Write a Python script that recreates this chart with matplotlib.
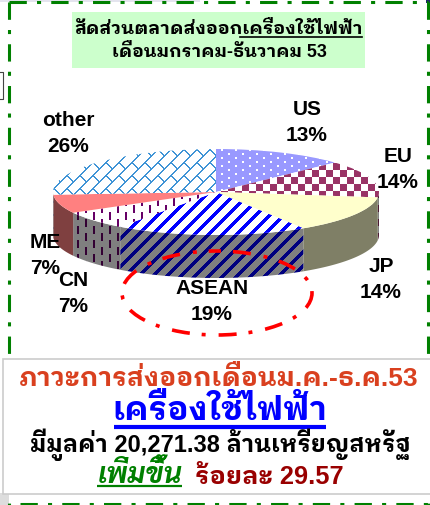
import numpy as np
import matplotlib
matplotlib.use("Agg")
from matplotlib import pyplot as plt
from matplotlib.patches import Ellipse, Polygon, Rectangle

labels = ["US", "EU", "JP", "ASEAN", "CN", "ME", "other"]
shares = [13, 14, 14, 19, 7, 7, 26]
percent_text = ["13%", "14%", "14%", "19%", "7%", "7%", "26%"]
label_x = [307, 398, 381, 212, 73, 45, 68]
label_y = [109, 156, 267, 288, 281, 243, 120]

title_lines = ["สัดส่วนตลาดส่งออกเครื่องใช้ไฟฟ้า", "เดือนมกราคม-ธันวาคม 53"]
bottom_head = "ภาวะการส่งออกเดือนม.ค.-ธ.ค.53"
bottom_product = "เครื่องใช้ไฟฟ้า"
bottom_value = "มีมูลค่า 20,271.38 ล้านเหรียญสหรัฐ"
bottom_up = "เพิ่มขึ้น"
bottom_pct = "ร้อยละ 29.57"

THAI = ["Liberation Sans", "IBM Plex Sans Thai Looped", "DejaVu Sans"]
plt.rcParams["font.family"] = THAI

GREEN = "#008000"


def hexrgb(c):
    return np.array(matplotlib.colors.to_rgb(c))


# fill patterns, one pixel of image = one pixel of picture
def texture(name, w, h):
    yy, xx = np.mgrid[0:h, 0:w]
    img = np.ones((h, w, 3))
    if name == "US":
        img[:] = hexrgb("#9999ff")
        col = (xx // 7) % 2
        dots = (xx % 7 < 2) & ((yy + col * 4) % 8 < 2)
        img[dots] = 1
    elif name == "EU":
        check = ((xx // 7) + (yy // 7)) % 2 == 0
        img[check] = hexrgb("#993366")
    elif name == "JP":
        img[:] = hexrgb("#ffffcc")
    elif name == "ASEAN":
        img[(xx + yy) % 14 < 5] = hexrgb("#0000ff")
    elif name == "CN":
        col = (xx // 8) % 2
        dash = (xx % 8 < 2) & ((yy + col * 7) % 14 < 8)
        img[dash] = hexrgb("#660066")
    elif name == "ME":
        img[:] = hexrgb("#ff8080")
    else:
        # diagonal brick
        row = ((xx + yy) // 13) % 2
        lines = (xx + yy) % 13 < 2
        cross = (xx - yy + row * 13) % 26 < 2
        img[lines | cross] = hexrgb("#3f94d6")
    return img


fig = plt.figure(figsize=(4.3, 5.06), dpi=100)
ax = fig.add_axes([0, 0, 1, 1])
ax.set_xlim(0, 430)
ax.set_ylim(506, 0)
ax.axis("off")

# page bits around the slide
ax.add_patch(Rectangle((0, 0), 200, 3, fc="#e4e4ee", ec="none"))
ax.add_patch(Rectangle((426, 0), 4, 4, fc="#1f2a66", ec="none"))
ax.add_patch(Rectangle((0, 494), 9, 12, fc="#dddddd", ec="none"))
ax.plot([0, 3, 3, 0], [73, 73, 100, 100], color="#444444", lw=0.8)

# green dash-dot frame
dash = (0, (17 / 3, 10 / 3, 4 / 3, 10 / 3))
for xs, ys in [([9, 428], [3, 3]), ([9, 9], [3, 506]), ([428, 428], [3, 506]), ([20, 430], [505, 505])]:
    ax.plot(xs, ys, color=GREEN, lw=2.2, linestyle=dash, dash_capstyle="butt")

# title
ax.add_patch(Rectangle((72, 13), 293, 56, fc="#ccffcc", ec="none"))
ax.text(219, 29, title_lines[0], ha="center", va="center", fontsize=13.2, fontweight="bold")
ax.text(219, 52, title_lines[1], ha="center", va="center", fontsize=13, fontweight="bold")
ax.plot([240, 362], [38, 38], color="black", lw=1.2)

# pie, drawn in its own axes so the circle can be squashed
px_left, px_right, px_top, px_mid_bottom, px_bottom = 53, 379, 150, 236, 279
ax_pie = fig.add_axes([px_left / 430, 1 - px_bottom / 506, (px_right - px_left) / 430, (px_bottom - px_top) / 506])
wedges, _ = ax_pie.pie(shares, startangle=90, counterclock=False, radius=1, wedgeprops={"fc": "none", "ec": "none"})
ax_pie.set_aspect("auto")
ax_pie.axis("off")
y_scale = (px_mid_bottom - px_top) / 2
depth = (px_bottom - px_mid_bottom) / y_scale
ymin = -1 - depth
w_px, h_px = px_right - px_left, px_bottom - px_top
extent = (-1, 1, ymin, 1)

cum = 0
for name, share, wedge in zip(labels, shares, wedges):
    a0 = 90 - cum * 3.6
    a1 = 90 - (cum + share) * 3.6
    cum += share
    tex = texture(name, w_px, h_px)
    # side wall, only the part of the rim facing us
    t = np.radians(np.linspace(a0, a1, 120))
    t = t[np.sin(t) <= 0]
    if len(t) > 1:
        xs, ys = np.cos(t), np.sin(t)
        pts = np.r_[np.c_[xs, ys], np.c_[xs[::-1], ys[::-1] - depth]]
        wall = Polygon(pts, closed=True, fc="none", ec="none", transform=ax_pie.transData)
        ax_pie.add_patch(wall)
        im = ax_pie.imshow(tex * 0.5, extent=extent, aspect="auto", interpolation="nearest", zorder=2)
        im.set_clip_path(wall)
    im = ax_pie.imshow(tex, extent=extent, aspect="auto", interpolation="nearest", zorder=3)
    im.set_clip_path(wedge)
ax_pie.set_xlim(-1, 1)
ax_pie.set_ylim(ymin, 1)

# labels and red ring go over the pie
ax_top = fig.add_axes([0, 0, 1, 1])
ax_top.set_xlim(0, 430)
ax_top.set_ylim(506, 0)
ax_top.axis("off")
ax_top.patch.set_alpha(0)
for name, pct, x, y in zip(labels, percent_text, label_x, label_y):
    ax_top.text(x, y, name, ha="center", va="center", fontsize=15, fontweight="bold")
    ax_top.text(x, y + 26, pct, ha="center", va="center", fontsize=15, fontweight="bold")
ax_top.add_patch(Ellipse((217, 294), 190, 84, fc="none", ec="#ff0000", lw=2.6,
                         linestyle=(8.6, (5, 3.6, 1.1, 3.3)), zorder=5))

# result box
ax_top.add_patch(Rectangle((3, 360), 432, 135, fc="white", ec="#cccccc", lw=1.2, zorder=6))
ax_top.text(219, 378, bottom_head, ha="center", va="center", fontsize=19, fontweight="bold",
            color="#d9401f", zorder=7)
ax_top.text(220, 411, bottom_product, ha="center", va="center", fontsize=23.8, fontweight="bold",
            color="#0000ff", zorder=7)
ax_top.plot([114, 326], [428, 428], color="#0000ff", lw=3, zorder=7, solid_capstyle="butt")
ax_top.text(220, 445, bottom_value, ha="center", va="center", fontsize=17, fontweight="bold",
            color="black", zorder=7)
ax_top.text(140, 476, bottom_up, ha="center", va="center", fontsize=20.5, fontweight="bold", fontstyle="italic",
            family=["Sarabun", "DejaVu Sans"], color=GREEN, zorder=7)
ax_top.plot([97, 182], [487, 487], color=GREEN, lw=1.6, zorder=7, solid_capstyle="butt")
ax_top.text(269, 477, bottom_pct, ha="center", va="center", fontsize=18.3, fontweight="bold",
            color="#990000", zorder=7)

fig.savefig("out.png", dpi=100)
